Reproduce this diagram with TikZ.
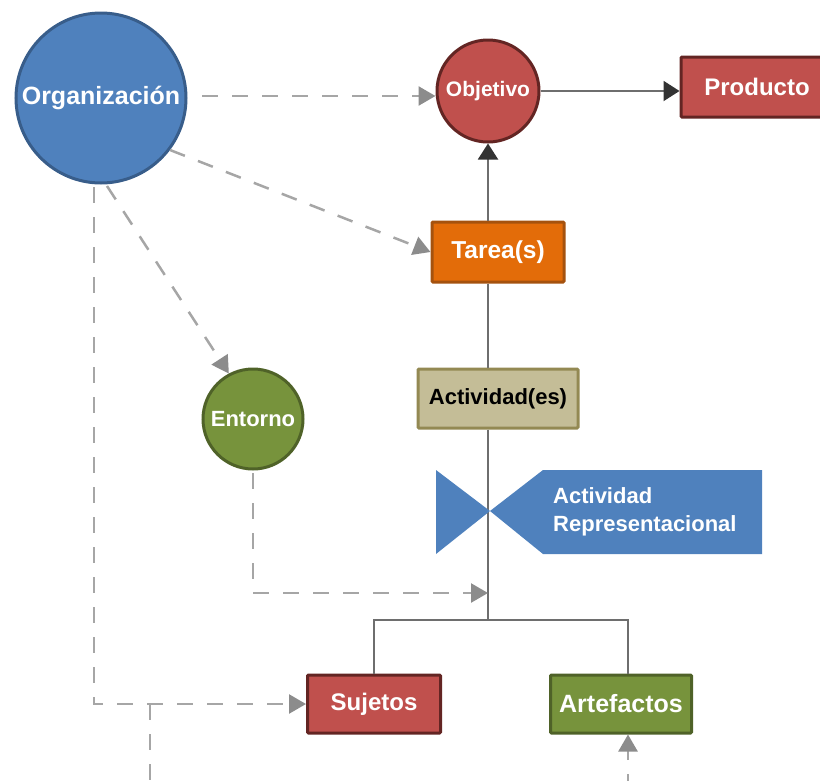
\documentclass[tikz,border=0pt]{standalone}
\usepackage{fontspec}
\setmainfont{Liberation Sans}
\usetikzlibrary{arrows.meta}
\definecolor{blueF}{HTML}{4F81BD}
\definecolor{blueD}{HTML}{385D8A}
\definecolor{redF}{HTML}{C0504D}
\definecolor{redD}{HTML}{632523}
\definecolor{orF}{HTML}{E36C09}
\definecolor{orD}{HTML}{A5520E}
\definecolor{tanF}{HTML}{C4BD97}
\definecolor{tanD}{HTML}{938953}
\definecolor{grF}{HTML}{77933C}
\definecolor{grD}{HTML}{4F6228}
\definecolor{dashC}{HTML}{A6A6A6}
\definecolor{dheadC}{HTML}{8C8C8C}
\definecolor{lineC}{HTML}{6E6E6E}
\definecolor{headC}{HTML}{333333}
\newcommand{\fsz}[1]{\fontsize{#1}{#1}\selectfont\bfseries}
\begin{document}
\begin{tikzpicture}[x=1pt,y=-1pt,
 circnode/.style={circle,draw,line width=3pt,inner sep=0pt,text=white},
 boxnode/.style={rectangle,draw,line width=3pt,inner sep=0pt,rounded corners=1pt,text=white},
 dashconn/.style={draw=dashC,line width=2.5pt,dash pattern=on 16pt off 14pt},
 dashhead/.style={-{Triangle[length=17pt,width=19pt,color=dheadC]}},
 solidconn/.style={draw=lineC,line width=2pt},
 solidhead/.style={-{Triangle[length=16pt,width=20pt,color=headC]}},
]
\useasboundingbox (0,0) rectangle (820,780);
\clip (0,0) rectangle (820,780);

% nodes
\node[circnode,fill=blueF,draw=blueD,minimum size=170pt,font=\fsz{25}] (org) at (101,98) {Organización};
\node[circnode,fill=redF,draw=redD,minimum size=102pt,font=\fsz{21}] (obj) at (488,91) {Objetivo};
\node[boxnode,fill=redF,draw=redD,minimum width=152pt,minimum height=60pt,font=\fsz{24}] (prod) at (757,87) {Producto};
\node[boxnode,fill=orF,draw=orD,minimum width=132pt,minimum height=60pt,font=\fsz{24.5}] (tarea) at (498,252) {Tarea(s)};
\node[boxnode,fill=tanF,draw=tanD,minimum width=160pt,minimum height=59pt,font=\fsz{22},text=black] (act) at (498,398.5) {Actividad(es)};
\node[circnode,fill=grF,draw=grD,minimum size=100pt,font=\fsz{22}] (ent) at (253,419) {Entorno};
\node[boxnode,fill=redF,draw=redD,minimum width=133pt,minimum height=58pt,font=\fsz{24}] (suj) at (374,704) {Sujetos};
\node[boxnode,fill=grF,draw=grD,minimum width=141pt,minimum height=58pt,font=\fsz{25}] (art) at (621,704) {Artefactos};

% coordinates
\coordinate (junc) at (488,620);
\coordinate (brr) at (628,620);
\coordinate (ejunc) at (488,593);
\coordinate (o1) at (202,96);
\coordinate (o2) at (170,150);
\coordinate (o3) at (107,186);
\coordinate (o4) at (94,187);
\coordinate (e1) at (253,473);
\coordinate (d1) at (150,704);
\coordinate (d1b) at (150,790);
\coordinate (a1) at (628,790);

% solid connectors
\draw[solidconn,solidhead] (tarea.north -| junc) -- (obj.south);
\draw[solidconn,solidhead] (obj.east) -- (obj.east -| prod.west);
\draw[solidconn] (tarea.south -| junc) -- (act.north -| junc);
\draw[solidconn] (act.south -| junc) -- (junc);
\draw[solidconn] (suj.north) |- (junc) -| (art.north -| brr);

% bowtie
\fill[blueF] (436,470) -- (490,511) -- (436,554) -- cycle;
\fill[blueF] (490,511) -- (543,470) -- (762,470) -- (762,554) -- (543,554) -- cycle;
\node[anchor=west,align=left,text=white,font={\fontsize{22}{28}\selectfont\bfseries},inner sep=0pt] (artext) at (553,512)
  {Actividad\\Representacional};

% dashed connectors
\draw[dashconn,dashhead] (o1) -- (o1 -| obj.west);
\draw[dashconn,dashhead] (o2) -- (tarea.west);
\draw[dashconn,dashhead] (o3) -- (ent.118);
\draw[dashconn,dashhead] (o4) |- (suj.west);
\draw[dashconn] (d1) -- (d1b);
\draw[dashconn,dashhead] (a1) -- (art.south -| a1);
\draw[dashconn,dashhead] (e1) |- (ejunc);
\end{tikzpicture}
\end{document}
